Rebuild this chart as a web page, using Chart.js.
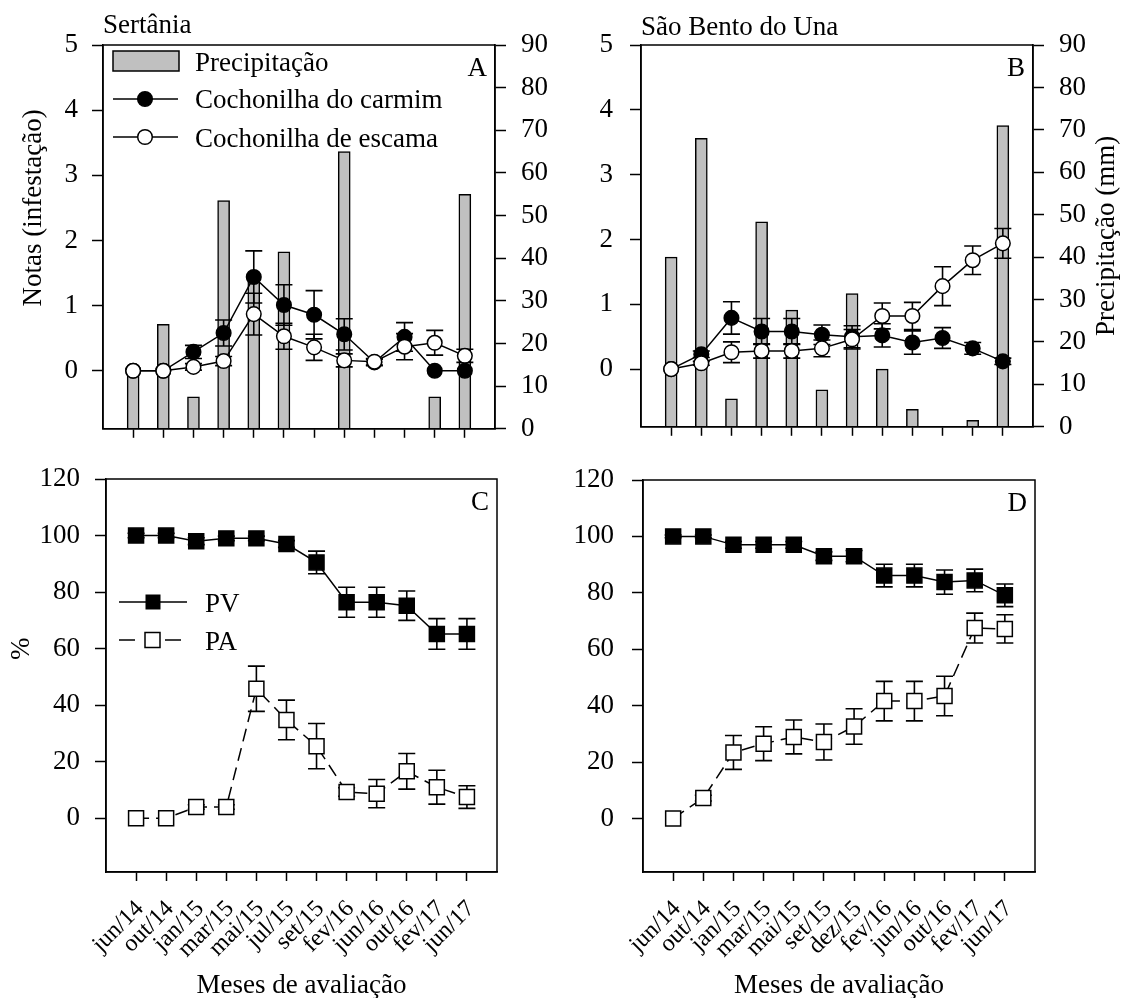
<!DOCTYPE html>
<html><head><meta charset="utf-8">
<script src="https://cdn.jsdelivr.net/npm/chart.js@4.4.1/dist/chart.umd.min.js"></script>
<style>
html,body{margin:0;padding:0;background:#fff;}
#wrap{position:relative;width:1123px;height:998px;background:#fff;overflow:hidden;}
canvas{position:absolute;}
</style></head><body>
<div id="wrap">
<canvas id="cA" width="570" height="460" style="left:0;top:0"></canvas>
<canvas id="cB" width="553" height="460" style="left:570px;top:0"></canvas>
<canvas id="cC" width="570" height="558" style="left:0;top:440px"></canvas>
<canvas id="cD" width="553" height="558" style="left:570px;top:440px"></canvas>
</div>
<script>
// ---------- DATA ----------
const monthsSertania = ["jun/14","out/14","jan/15","mar/15","mai/15","jul/15","set/15","fev/16","jun/16","out/16","fev/17","jun/17"];
const monthsSBU      = ["jun/14","out/14","jan/15","mar/15","mai/15","set/15","dez/15","fev/16","jun/16","out/16","fev/17","jun/17"];

const notasTicks  = [0,1,2,3,4,5];
const precipTicks = [0,10,20,30,40,50,60,70,80,90];
const pctTicks    = [0,20,40,60,80,100,120];

// Panel A (Sertânia)
const precipSertania     = [13, 24.5, 7.5, 53.5, 34.5, 41.5, 0, 65, 0, 0, 7.5, 55];
const carmimSertania     = [0, 0, 0.29, 0.58, 1.44, 1.01, 0.86, 0.56, 0.13, 0.52, 0, 0];
const carmimSertaniaErr  = [0, 0, 0.1, 0.2, 0.4, 0.31, 0.37, 0.24, 0.05, 0.22, 0, 0];
const escamaSertania     = [0, 0, 0.06, 0.15, 0.87, 0.53, 0.36, 0.16, 0.14, 0.37, 0.43, 0.23];
const escamaSertaniaErr  = [0, 0, 0.05, 0.07, 0.32, 0.2, 0.2, 0.1, 0.05, 0.2, 0.19, 0.1];

// Panel B (São Bento do Una)
const precipSBU    = [40, 68, 6.6, 48.3, 27.5, 8.7, 31.4, 13.6, 4.1, 0, 1.5, 71];
const carmimSBU    = [0, 0.23, 0.79, 0.58, 0.58, 0.53, 0.5, 0.52, 0.41, 0.48, 0.32, 0.12];
const carmimSBUErr = [0, 0.05, 0.25, 0.2, 0.2, 0.15, 0.17, 0.18, 0.18, 0.16, 0.09, 0.05];
const escamaSBU    = [0, 0.09, 0.26, 0.28, 0.28, 0.32, 0.46, 0.82, 0.82, 1.28, 1.68, 1.94];
const escamaSBUErr = [0, 0.03, 0.16, 0.11, 0.11, 0.13, 0.15, 0.2, 0.21, 0.3, 0.22, 0.23];

// Panel C (Sertânia)
const pvSertania    = [100, 100, 98, 99, 99, 97, 90.5, 76.4, 76.4, 75.2, 65.2, 65.2];
const pvSertaniaErr = [0.8, 0.8, 1.2, 0.8, 0.8, 1.2, 4, 5.3, 5.3, 5.2, 5.4, 5.4];
const paSertania    = [0, 0, 4, 4, 45.8, 34.8, 25.5, 9.3, 8.7, 16.6, 11, 7.5];
const paSertaniaErr = [0, 0, 0.8, 0.8, 8, 7, 8, 1.5, 5, 6.3, 6, 4];

// Panel D (São Bento do Una)
const pvSBU    = [100, 100, 97, 97, 97, 93, 93, 86.1, 86.1, 83.8, 84.4, 79.1];
const pvSBUErr = [0.5, 0.5, 1.2, 1.2, 1.2, 1.5, 2, 4, 4, 4.3, 4, 4];
const paSBU    = [0, 7.2, 23.4, 26.5, 28.9, 27.1, 32.6, 41.6, 41.6, 43.4, 67.5, 67.2];
const paSBUErr = [0, 1, 6, 6, 6, 6.4, 6.3, 7, 7, 7, 5.3, 5];

// ---------- STYLE ----------
const FAM = "'Liberation Serif','Times New Roman',serif";
const FS = 27;
const FONT = FS + "px " + FAM;
Chart.defaults.font.family = FAM;
Chart.defaults.font.size = FS;
Chart.defaults.color = '#000';

const toXY = arr => arr.map((v, i) => ({x: i, y: v}));

const errorBarPlugin = {
  id: 'errorBars',
  beforeDatasetDraw(chart, args) {
    const ds = chart.data.datasets[args.index];
    if (!ds.errorBars) return;
    const meta = args.meta;
    const ys = chart.scales[meta.yAxisID];
    const ctx = chart.ctx;
    ctx.save();
    ctx.strokeStyle = '#000';
    ctx.lineWidth = 1.6;
    ctx.setLineDash([]);
    meta.data.forEach((pt, i) => {
      const e = ds.errorBars[i];
      if (!e) return;
      const v = ds.data[i].y;
      const x = pt.x;
      const y1 = ys.getPixelForValue(v + e), y2 = ys.getPixelForValue(v - e);
      const c = 8.5;
      ctx.beginPath();
      ctx.moveTo(x, y1); ctx.lineTo(x, y2);
      ctx.moveTo(x - c, y1); ctx.lineTo(x + c, y1);
      ctx.moveTo(x - c, y2); ctx.lineTo(x + c, y2);
      ctx.stroke();
    });
    ctx.restore();
  }
};
Chart.register(errorBarPlugin);

function xScale(months, showLabels, h) {
  return {
    type: 'linear', min: -1, max: 12, offset: false,
    afterBuildTicks: s => { s.ticks = months.map((m, i) => ({value: i})); },
    ticks: { display: showLabels, autoSkip: false, minRotation: 45, maxRotation: 45, padding: 14, labelOffset: 4,
             font: {size: 24},
             callback: v => (months[v] !== undefined ? months[v] : '') },
    grid: { offset: false, drawOnChartArea: false, tickLength: 9, tickColor: '#000', tickWidth: 1.5, color: '#000' },
    border: { color: '#000', width: 1.5 },
    afterFit: s => { s.height = h; }
  };
}
function yScale(min, max, tickVals, pos, width, pad) {
  return {
    type: 'linear', position: pos, min: min, max: max,
    afterBuildTicks: s => { s.ticks = tickVals.map(v => ({value: v})); },
    ticks: { padding: pad, callback: v => String(v) },
    grid: { drawOnChartArea: false, tickLength: 11, tickColor: '#000', tickWidth: 1.5, color: '#000' },
    border: { color: '#000', width: 1.5 },
    afterFit: s => { s.width = width; }
  };
}
function lineDs(label, vals, errs, filled, style, radius, order, dash) {
  return {
    type: 'line', label: label, data: toXY(vals), errorBars: errs, yAxisID: 'y', xAxisID: 'x', order: order,
    borderColor: '#000', borderWidth: 1.5, borderDash: dash || [],
    pointStyle: style, pointRadius: radius, pointHoverRadius: radius,
    pointBackgroundColor: filled ? '#000' : '#fff', pointBorderColor: '#000', pointBorderWidth: 1.5,
    tension: 0, fill: false
  };
}
function barDs(vals) {
  return {
    type: 'bar', label: 'Precipitação', data: toXY(vals), yAxisID: 'y2', xAxisID: 'x', order: 2,
    backgroundColor: '#c0c0c0', borderColor: '#000', borderWidth: 1.5, barThickness: 12
  };
}

function decoPlugin(cfg) {
  return {
    id: 'deco',
    afterDraw(chart) {
      const ctx = chart.ctx;
      const a = chart.chartArea;
      ctx.save();
      ctx.strokeStyle = '#000';
      ctx.lineWidth = 1.5;
      ctx.strokeRect(a.left, a.top, a.right - a.left, a.bottom - a.top);
      ctx.fillStyle = '#000';
      ctx.font = FONT;
      ctx.textBaseline = 'alphabetic';
      if (cfg.title) { ctx.textAlign = 'left'; ctx.fillText(cfg.title, a.left, cfg.titleY); }
      if (cfg.letter) { ctx.textAlign = 'right'; ctx.fillText(cfg.letter, a.right - 8, a.top + 31); }
      if (cfg.yTitle) {
        ctx.save();
        ctx.translate(cfg.yTitle.x, chart.scales[cfg.yTitle.axis].getPixelForValue(cfg.yTitle.mid));
        ctx.rotate(-Math.PI / 2);
        ctx.textAlign = 'center'; ctx.textBaseline = 'middle';
        ctx.fillText(cfg.yTitle.text, 0, 0);
        ctx.restore();
      }
      if (cfg.xTitle) {
        ctx.textAlign = 'center'; ctx.textBaseline = 'alphabetic';
        ctx.fillText(cfg.xTitle, (a.left + a.right) / 2, cfg.xTitleY);
      }
      if (cfg.legend === 'A') {
        const L = a.left, T = a.top;
        ctx.fillStyle = '#c0c0c0';
        ctx.fillRect(L + 10, T + 6, 66, 20);
        ctx.strokeRect(L + 10, T + 6, 66, 20);
        ctx.fillStyle = '#000';
        ctx.textAlign = 'left';
        ctx.fillText('Precipitação', L + 92, T + 26);
        [[T + 54, '#000', 'Cochonilha do carmim', T + 63], [T + 92, '#fff', 'Cochonilha de escama', T + 102]].forEach(r => {
          ctx.beginPath(); ctx.moveTo(L + 10, r[0]); ctx.lineTo(L + 75, r[0]); ctx.stroke();
          ctx.beginPath(); ctx.arc(L + 42, r[0], 7.3, 0, Math.PI * 2);
          ctx.fillStyle = r[1]; ctx.fill(); ctx.stroke();
          ctx.fillStyle = '#000';
          ctx.fillText(r[2], L + 92, r[3]);
        });
      }
      if (cfg.legend === 'C') {
        const L = a.left, T = a.top;
        ctx.textAlign = 'left';
        // PV
        ctx.beginPath(); ctx.moveTo(L + 13, T + 123); ctx.lineTo(L + 81, T + 123); ctx.stroke();
        ctx.fillStyle = '#000';
        ctx.fillRect(L + 47 - 7.5, T + 123 - 7.5, 15, 15);
        ctx.fillText('PV', L + 99, T + 133);
        // PA
        ctx.beginPath();
        ctx.moveTo(L + 13, T + 161); ctx.lineTo(L + 29, T + 161);
        ctx.moveTo(L + 59, T + 161); ctx.lineTo(L + 75, T + 161);
        ctx.stroke();
        ctx.fillStyle = '#fff';
        ctx.fillRect(L + 46.5 - 7.5, T + 161 - 7.5, 15, 15);
        ctx.strokeRect(L + 46.5 - 7.5, T + 161 - 7.5, 15, 15);
        ctx.fillStyle = '#000';
        ctx.fillText('PA', L + 99, T + 171);
      }
      ctx.restore();
    }
  };
}

function makeChart(id, datasets, scales, padding, deco) {
  return new Chart(document.getElementById(id), {
    type: 'line',
    data: { datasets: datasets },
    options: {
      responsive: false, animation: false, devicePixelRatio: 1,
      layout: { padding: padding, autoPadding: false },
      plugins: { legend: { display: false }, tooltip: { enabled: false } },
      events: [],
      scales: scales
    },
    plugins: [decoPlugin(deco)]
  });
}

// Panel A
makeChart('cA', [
  lineDs('Cochonilha de escama', escamaSertania, escamaSertaniaErr, false, 'circle', 7.3, 0),
  lineDs('Cochonilha do carmim', carmimSertania, carmimSertaniaErr, true, 'circle', 7.3, 1),
  barDs(precipSertania)
], {
  x: xScale(monthsSertania, false, 23),
  y: yScale(-0.89, 5, notasTicks, 'left', 103, 14),
  y2: yScale(0, 90, precipTicks, 'right', 75, 15)
}, {top: 45, right: 0, bottom: 0, left: 0}, {
  title: 'Sertânia', titleY: 33, letter: 'A', legend: 'A',
  yTitle: {text: 'Notas (infestação)', axis: 'y', mid: 2.5, x: 34}
});

// Panel B
makeChart('cB', [
  lineDs('Cochonilha de escama', escamaSBU, escamaSBUErr, false, 'circle', 7.3, 0),
  lineDs('Cochonilha do carmim', carmimSBU, carmimSBUErr, true, 'circle', 7.3, 1),
  barDs(precipSBU)
], {
  x: xScale(monthsSBU, false, 23),
  y: yScale(-0.89, 5, notasTicks, 'left', 71, 17),
  y2: yScale(0, 90, precipTicks, 'right', 90, 15)
}, {top: 45, right: 0, bottom: 0, left: 0}, {
  title: 'São Bento do Una', titleY: 35, letter: 'B',
  yTitle: {text: 'Precipitação (mm)', axis: 'y2', mid: 45, x: 537}
});

// Panel C (canvas starts at y=440)
makeChart('cC', [
  lineDs('PV', pvSertania, pvSertaniaErr, true, 'rect', 10.6, 0),
  lineDs('PA', paSertania, paSertaniaErr, false, 'rect', 10.6, 1, [13, 7])
], {
  x: xScale(monthsSertania, true, 126),
  y: yScale(-19, 120, pctTicks, 'left', 106, 15)
}, {top: 39, right: 73, bottom: 0, left: 0}, {
  letter: 'C', legend: 'C', xTitle: 'Meses de avaliação', xTitleY: 553,
  yTitle: {text: '%', axis: 'y', mid: 60, x: 22}
});

// Panel D
makeChart('cD', [
  lineDs('PV', pvSBU, pvSBUErr, true, 'rect', 10.6, 0),
  lineDs('PA', paSBU, paSBUErr, false, 'rect', 10.6, 1, [13, 7])
], {
  x: xScale(monthsSBU, true, 126),
  y: yScale(-19, 120, pctTicks, 'left', 73, 18)
}, {top: 40, right: 88, bottom: 0, left: 0}, {
  letter: 'D', xTitle: 'Meses de avaliação', xTitleY: 553
});
</script>
</body></html>
